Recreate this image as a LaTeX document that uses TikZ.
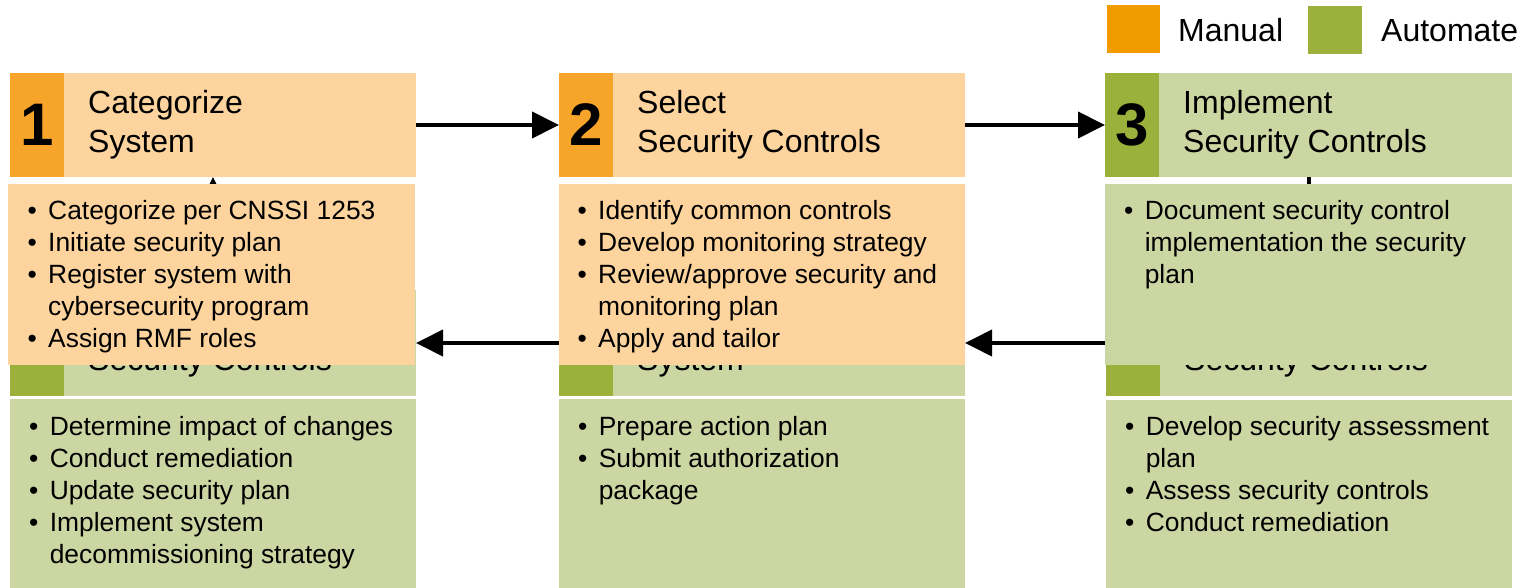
\documentclass[tikz,border=0pt]{standalone}
\usepackage{fontspec}
\setmainfont{Liberation Sans}
\usetikzlibrary{arrows.meta}
\definecolor{lor}{HTML}{FDD49E}
\definecolor{dor}{HTML}{F6A52A}
\definecolor{legor}{HTML}{F29B00}
\definecolor{lgr}{HTML}{CCD6A3}
\definecolor{dgr}{HTML}{9BB13B}
\newcommand\mylines[1]{\begin{tabular}[t]{@{}l@{}}#1\end{tabular}}
\newcommand\mybul[1]{\begin{tabular}[t]{@{}l@{}l@{}}#1\end{tabular}}
\newcommand\bu{\makebox[20.6pt][l]{\textbullet}}
\tikzset{
  panel/.style={draw=none, inner sep=0pt, outer sep=0pt, anchor=north west},
  hdrtext/.style={inner sep=0pt, anchor=base west, font=\fontsize{32}{38.5}\selectfont},
  bultext/.style={inner sep=0pt, anchor=base west, font=\fontsize{26.4}{32}\selectfont},
  numtext/.style={inner sep=0pt, font=\fontsize{60}{62}\selectfont\bfseries},
  arr/.style={line width=4pt, -{Triangle[length=27pt,width=26pt]}},
}
\begin{document}
\begin{tikzpicture}[x=1pt,y=-1pt]
\useasboundingbox (0,0) rectangle (1524,588);
% lower row headers (partly hidden)
\node[panel, fill=lgr, minimum width=406pt, minimum height=106pt] (h6) at (10,290) {};
\node[panel, fill=dgr, minimum width=54pt, minimum height=106pt] (s6) at (10,290) {};
\node[panel, fill=lgr, minimum width=406pt, minimum height=106pt] (h5) at (559,290) {};
\node[panel, fill=dgr, minimum width=54pt, minimum height=106pt] (s5) at (559,290) {};
\node[panel, fill=lgr, minimum width=406pt, minimum height=106pt] (h4) at (1106,290) {};
\node[panel, fill=dgr, minimum width=54pt, minimum height=106pt] (s4) at (1106,290) {};
\node[hdrtext] (h6t) at (88,370) {Security Controls};
\node[hdrtext] (h5t) at (637,370) {System};
\node[hdrtext] (h4t) at (1184,370) {Security Controls};
% lower row bodies
\node[panel, fill=lgr, minimum width=406pt, minimum height=189pt] (b6) at (10,399) {};
\node[panel, fill=lgr, minimum width=406pt, minimum height=189pt] (b5) at (559,399) {};
\node[panel, fill=lgr, minimum width=406pt, minimum height=188pt] (b4) at (1106,400) {};
\node[bultext] (b6t) at (29,435) {\mybul{\bu & Determine impact of changes\\
  \bu & Conduct remediation\\ \bu & Update security plan\\
  \bu & Implement system\\ & decommissioning strategy}};
\node[bultext] (b5t) at (578,435) {\mybul{\bu & Prepare action plan\\
  \bu & Submit authorization\\ & package}};
\node[bultext] (b4t) at (1125,435) {\mybul{\bu & Develop security assessment\\
  & plan\\ \bu & Assess security controls\\ \bu & Conduct remediation}};
% lower connectors
\draw[arr] (h5.west) -- (h6.east);
\draw[arr] (h4.west) -- (h5.east);
% top row headers
\node[panel, fill=lor, minimum width=406pt, minimum height=104pt] (h1) at (10,73) {};
\node[panel, fill=dor, minimum width=54pt, minimum height=104pt] (s1) at (10,73) {};
\node[panel, fill=lor, minimum width=406pt, minimum height=104pt] (h2) at (559,73) {};
\node[panel, fill=dor, minimum width=54pt, minimum height=104pt] (s2) at (559,73) {};
\node[panel, fill=lgr, minimum width=407pt, minimum height=104pt] (h3) at (1105,73) {};
\node[panel, fill=dgr, minimum width=54pt, minimum height=104pt] (s3) at (1105,73) {};
\node[numtext] (n1) at (s1.center) {1};
\node[numtext] (n2) at (s2.center) {2};
\node[numtext] (n3) at (s3.center) {3};
\node[hdrtext] (h1t) at (88,114) {\mylines{Categorize\\System}};
\node[hdrtext] (h2t) at (637,114) {\mylines{Select\\Security Controls}};
\node[hdrtext] (h3t) at (1183,114) {\mylines{Implement\\Security Controls}};
\draw[arr] (h1.east) -- (h2.west);
\draw[arr] (h2.east) -- (h3.west);
% vertical connectors (mostly hidden behind the bodies)
\coordinate (v1) at (213,0);
\coordinate (v3) at (1309,0);
\draw[arr] (h6.north -| v1) -- (h1.south -| v1);
\draw[arr] (h3.south -| v3) -- (h4.north -| v3);
% top row bodies
\node[panel, fill=lor, minimum width=407pt, minimum height=181pt] (t1) at (8,184) {};
\node[panel, fill=lor, minimum width=406pt, minimum height=181pt] (t2) at (559,184) {};
\node[panel, fill=lgr, minimum width=407pt, minimum height=181pt] (t3) at (1105,184) {};
\node[bultext] (t1t) at (27.4,220) {\mybul{\bu & Categorize per CNSSI 1253\\
  \bu & Initiate security plan\\ \bu & Register system with\\
  & cybersecurity program\\ \bu & Assign RMF roles}};
\node[bultext] (t2t) at (577.4,220) {\mybul{\bu & Identify common controls\\
  \bu & Develop monitoring strategy\\ \bu & Review/approve security and\\
  & monitoring plan\\ \bu & Apply and tailor}};
\node[bultext] (t3t) at (1124,220) {\mybul{\bu & Document security control\\
  & implementation the security\\ & plan}};
% legend
\node[panel, fill=legor, minimum width=53pt, minimum height=48pt] (lm) at (1107,5) {};
\node[hdrtext] (lmt) at (1178,42) {Manual};
\node[panel, fill=dgr, minimum width=54pt, minimum height=48pt] (la) at (1308,6) {};
\node[hdrtext] (lat) at (1381,42) {Automate};
\end{tikzpicture}
\end{document}
